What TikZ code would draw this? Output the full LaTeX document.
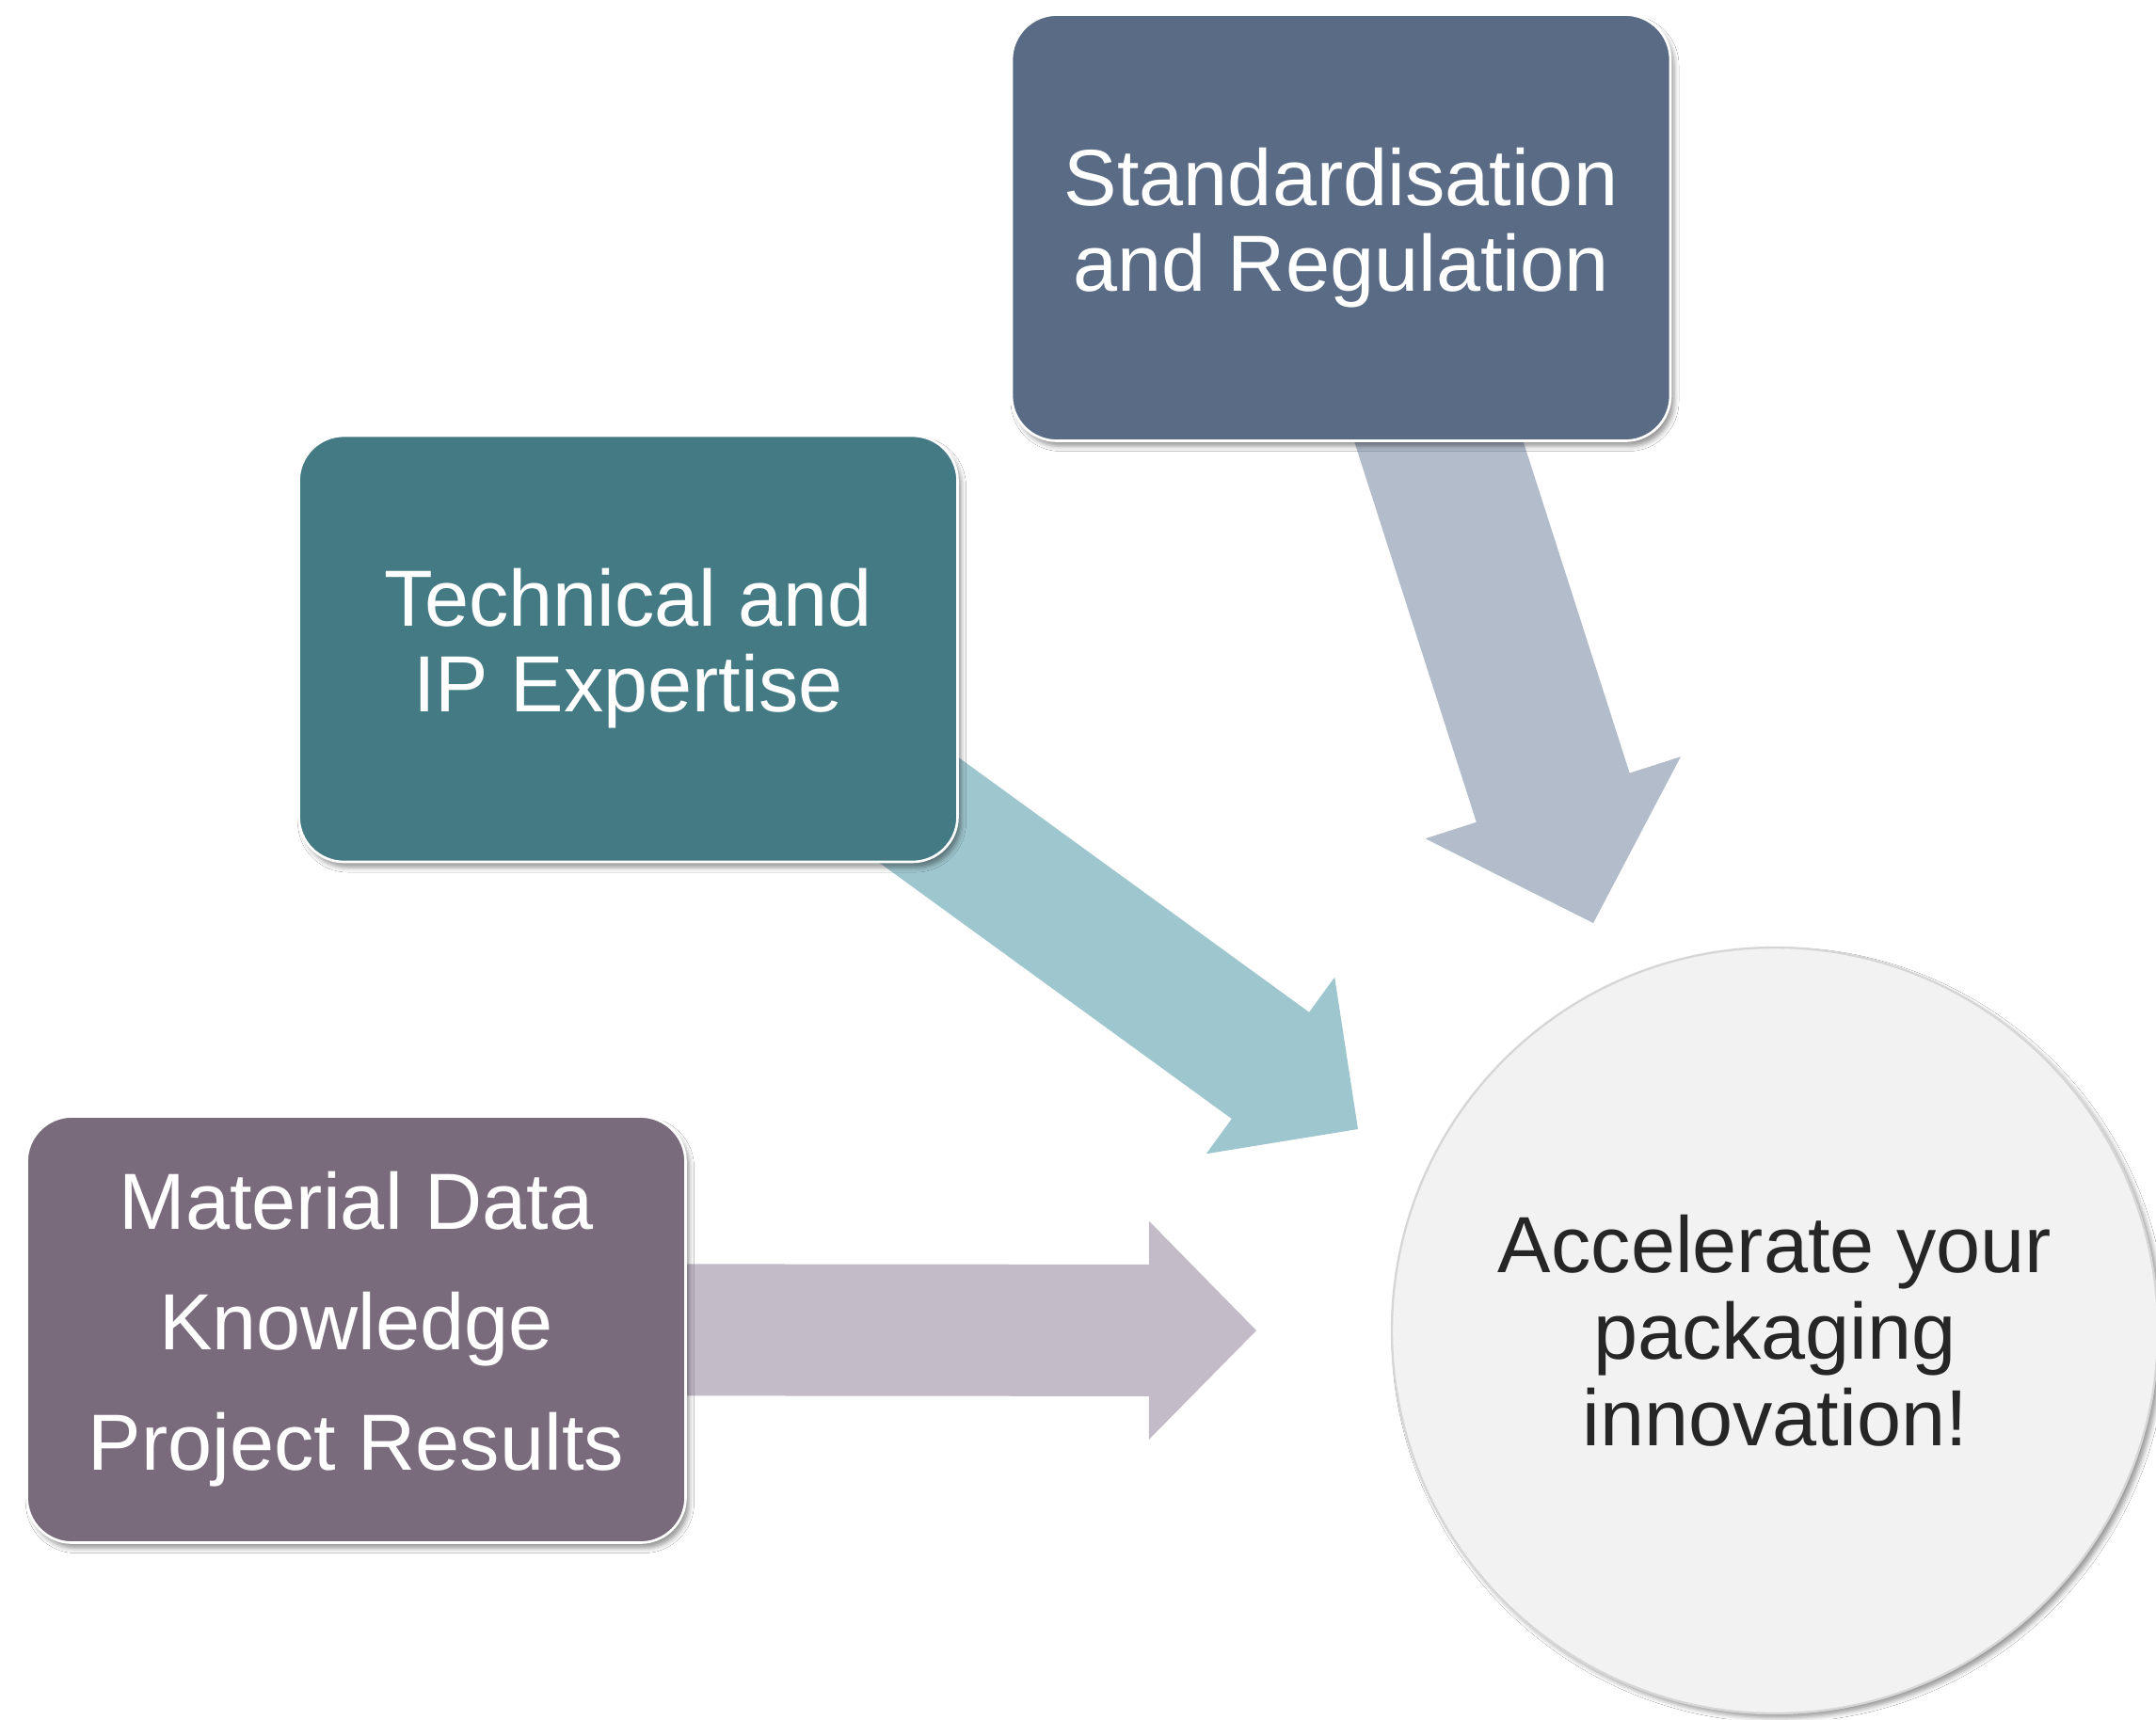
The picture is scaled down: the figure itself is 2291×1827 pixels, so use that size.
\documentclass[tikz,border=0pt]{standalone}
\usepackage{fontspec}
\setmainfont{Liberation Sans}
\usetikzlibrary{calc,shadows.blur}
\definecolor{cStd}{HTML}{5A6B85}
\definecolor{cTech}{HTML}{437A84}
\definecolor{cMat}{HTML}{7A6B7C}
\definecolor{aStd}{HTML}{B2BCCB}
\definecolor{aTech}{HTML}{9EC6CE}
\definecolor{aMat}{HTML}{C3BBC8}
\definecolor{cCirc}{HTML}{F2F2F2}
\definecolor{cCircLine}{HTML}{D6D6D6}
\definecolor{cText}{HTML}{262626}
\newcommand{\blockarrow}[7]{% #1 name, #2 start, #3 tip, #4 shaft half, #5 head half, #6 head length, #7 style
  \coordinate (#1h) at ($(#3)!#6!(#2)$);
  \fill[#7] ($(#2)!#4!90:(#3)$) -- ($(#1h)!#4!90:(#3)$) -- ($(#1h)!#5!90:(#3)$)
    -- (#3) -- ($(#1h)!#5!-90:(#3)$) -- ($(#1h)!#4!-90:(#3)$) -- ($(#2)!#4!-90:(#3)$) -- cycle;
}
\begin{document}
\begin{tikzpicture}[x=0.3pt,y=-0.3pt,
  boxstyle/.style={rectangle, rounded corners=14.4pt, minimum width=210pt, minimum height=135.9pt,
    inner sep=0pt, draw=white, line width=0.8pt, text=white, align=center,
    font=\fontsize{25.4pt}{27.3pt}\selectfont,
    blur shadow={shadow xshift=1.2pt, shadow yshift=-1.8pt, shadow blur radius=1.5pt, shadow opacity=40}},
  goalstyle/.style={circle, minimum size=244.2pt, inner sep=0pt, fill=cCirc, draw=cCircLine,
    line width=0.7pt, text=cText, align=center, font=\fontsize{25.4pt}{27.6pt}\selectfont,
    blur shadow={shadow xshift=1.4pt, shadow yshift=-1.4pt, shadow blur radius=1.5pt, shadow opacity=40}}]
\useasboundingbox (0,0) rectangle (2291,1827);
\fill[white] (0,0) rectangle (2291,1827);

% anchor points of the block arrows
\coordinate (sStd) at (1456,242);
\coordinate (tStd) at (1693,981);
\coordinate (sTech) at (667,636);
\coordinate (tTech) at (1443,1200);
\coordinate (sMat) at (378,1413);
\coordinate (tMat) at (1335,1414);

\blockarrow{aS}{sStd}{tStd}{25.65pt}{42.75pt}{42pt}{aStd}
\blockarrow{aT}{sTech}{tTech}{21pt}{34.8pt}{34.5pt}{aTech}
\blockarrow{aM}{sMat}{tMat}{21pt}{34.8pt}{34.2pt}{aMat}

\node[boxstyle, fill=cStd] (std) at (1425,242) {\raisebox{-1.2pt}{\parbox{200pt}{\centering Standardisation\\and Regulation}}};
\node[boxstyle, fill=cTech] (tech) at (667.5,689.5) {\raisebox{-1pt}{\parbox{200pt}{\centering Technical and\\IP Expertise}}};
\node[boxstyle, fill=cMat, font=\fontsize{25.4pt}{38.4pt}\selectfont] (mat) at (378.5,1413) {\raisebox{-1.2pt}{\parbox{200pt}{\centering Material Data\\Knowledge\\Project Results}}};
\node[goalstyle] (goal) at (1886,1414) {Accelerate your\\packaging\\innovation!};
\end{tikzpicture}
\end{document}
